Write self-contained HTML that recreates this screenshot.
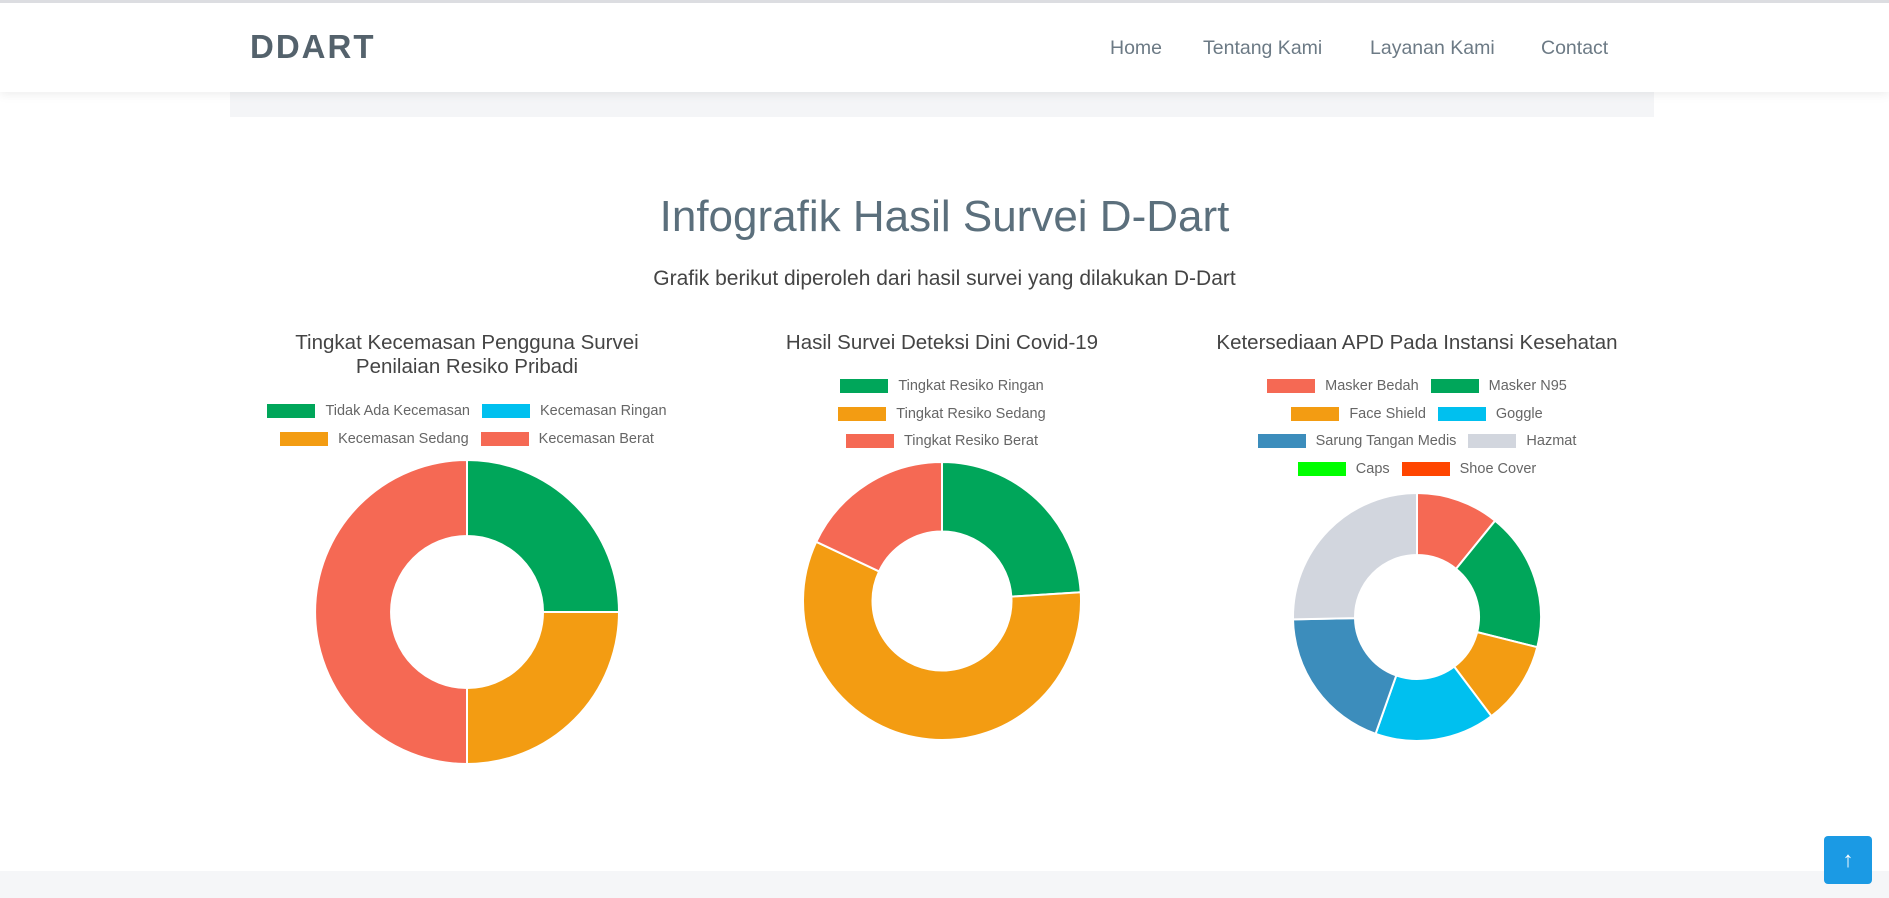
<!DOCTYPE html>
<html><head><meta charset="utf-8"><style>
*{margin:0;padding:0;box-sizing:border-box}
body{width:1889px;height:898px;position:relative;background:#fff;font-family:"Liberation Sans",sans-serif;overflow:hidden}
.abs{position:absolute}
.nav{left:0;top:0;width:1889px;height:92px;background:#fff;border-top:3px solid #dcdde1;box-shadow:0 2px 10px rgba(0,0,0,.08);z-index:2}
.logo{left:250px;top:25px;font-size:33px;letter-spacing:2px;color:#54626c;font-weight:bold}
.nl{top:34px;font-size:19.5px;color:#6c7a85}
.ctitle{font-size:20.5px;color:#444;text-align:center;width:500px;line-height:24px}
.leg{display:flex;justify-content:center;width:560px;font-size:14.5px;color:#666;white-space:nowrap}
.li{display:flex;align-items:center;margin:0 6px}
.sw{width:48px;height:14px;margin-right:10px}
</style></head><body>
<div class="abs nav">
<div class="abs logo">DDART</div>
<div class="abs nl" style="left:1110px">Home</div>
<div class="abs nl" style="left:1203px">Tentang Kami</div>
<div class="abs nl" style="left:1370px">Layanan Kami</div>
<div class="abs nl" style="left:1541px">Contact</div>
</div>
<div class="abs" style="left:230px;top:92px;width:1424px;height:25px;background:#f4f5f7"></div>
<div class="abs" style="left:0;top:192px;width:1889px;text-align:center;font-size:44px;color:#5b6f7c">Infografik Hasil Survei D-Dart</div>
<div class="abs" style="left:0;top:267px;width:1889px;text-align:center;font-size:21px;color:#444">Grafik berikut diperoleh dari hasil survei yang dilakukan D-Dart</div>

<div class="abs ctitle" style="left:217px;top:331px">Tingkat Kecemasan Pengguna Survei<br>Penilaian Resiko Pribadi</div>
<div class="abs ctitle" style="left:692px;top:331px">Hasil Survei Deteksi Dini Covid-19</div>
<div class="abs ctitle" style="left:1167px;top:331px">Ketersediaan APD Pada Instansi Kesehatan</div>
<div id="legends"></div>
<svg class="abs" style="left:0;top:0" width="1889" height="898" id="sv"></svg>

<div class="abs" style="left:0;top:871px;width:1889px;height:27px;background:#f5f6f8"></div>
<div class="abs" style="left:1824px;top:836px;width:48px;height:48px;background:#1b9ae4;border-radius:4px;color:#fff;text-align:center;font-size:22px;line-height:48px;font-weight:bold">&#8593;</div>
<script>
const c1Labels=["Tidak Ada Kecemasan","Kecemasan Ringan","Kecemasan Sedang","Kecemasan Berat"];
const c1Values=[1,0,1,2];
const c1Colors=["#00a65a","#00c0ef","#f39c12","#f56954"];
const c2Labels=["Tingkat Resiko Ringan","Tingkat Resiko Sedang","Tingkat Resiko Berat"];
const c2Values=[24,58,18];
const c2Colors=["#00a65a","#f39c12","#f56954"];
const c3Labels=["Masker Bedah","Masker N95","Face Shield","Goggle","Sarung Tangan Medis","Hazmat","Caps","Shoe Cover"];
const c3Values=[9,15,9,13,16,21,0,0];
const c3Colors=["#f56954","#00a65a","#f39c12","#00c0ef","#3c8dbc","#d2d6de","#00ff00","#ff4500"];

const charts=[
 {id:"chart1",labels:c1Labels,values:c1Values,colors:c1Colors,cx:467,cy:612,r:152,rows:[[0,1],[2,3]],ly:403},
 {id:"chart2",labels:c2Labels,values:c2Values,colors:c2Colors,cx:942,cy:601,r:139,rows:[[0],[1],[2]],ly:378},
 {id:"chart3",labels:c3Labels,values:c3Values,colors:c3Colors,cx:1417,cy:617,r:124,rows:[[0,1],[2,3],[4,5],[6,7]],ly:378}
];
const NS="http://www.w3.org/2000/svg";
const sv=document.getElementById('sv');
const lg=document.getElementById('legends');
function pt(cx,cy,r,a){return [cx+r*Math.sin(a),cy-r*Math.cos(a)];}
charts.forEach(c=>{
  const tot=c.values.reduce((a,b)=>a+b,0);
  let a0=0;
  const ri=c.r*0.5;
  c.values.forEach((v,i)=>{
    if(v<=0)return;
    const a1=a0+v/tot*2*Math.PI;
    const big=(a1-a0)>Math.PI?1:0;
    const p0=pt(c.cx,c.cy,c.r,a0),p1=pt(c.cx,c.cy,c.r,a1),q1=pt(c.cx,c.cy,ri,a1),q0=pt(c.cx,c.cy,ri,a0);
    const p=document.createElementNS(NS,'path');
    p.setAttribute('d',`M${p0[0]},${p0[1]}A${c.r},${c.r} 0 ${big} 1 ${p1[0]},${p1[1]}L${q1[0]},${q1[1]}A${ri},${ri} 0 ${big} 0 ${q0[0]},${q0[1]}Z`);
    p.setAttribute('fill',c.colors[i]);p.setAttribute('stroke','#fff');p.setAttribute('stroke-width','2');
    
    
    sv.appendChild(p);
    a0=a1;
  });
  c.rows.forEach((row,ri2)=>{
    const d=document.createElement('div');
    d.className='abs leg';
    d.style.left=(c.cx-280)+'px';d.style.top=(c.ly+ri2*27.5)+'px';
    
    
    row.forEach(i=>{
      const it=document.createElement('div');it.className='li';
      
      
      it.innerHTML='<span class="sw" style="background:'+c.colors[i]+'"></span>'+c.labels[i];
      d.appendChild(it);
    });
    lg.appendChild(d);
  });
});
</script>
</body></html>
